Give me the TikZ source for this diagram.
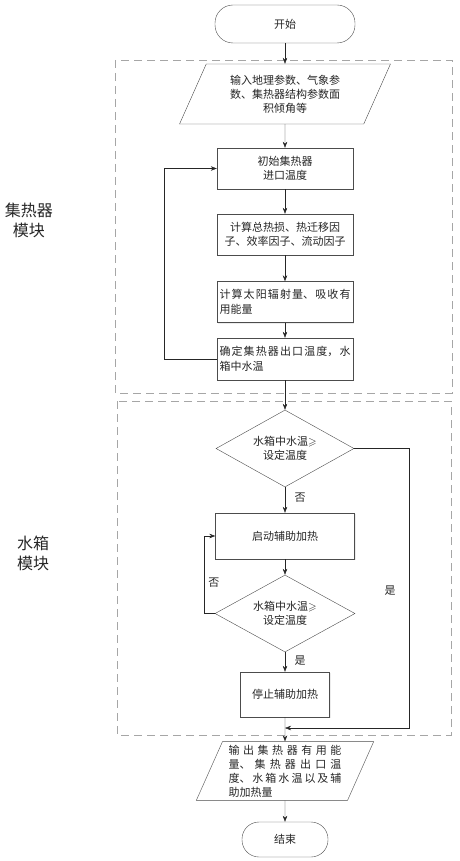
\documentclass[tikz,border=0pt]{standalone}
\usepackage{amssymb}
\usepackage{fontspec}
\setmainfont{Noto Sans CJK SC}
\XeTeXlinebreaklocale "zh"
\newcommand{\stretchcjk}{\XeTeXlinebreakskip=0pt plus 4pt\relax}
\usetikzlibrary{arrows.meta,shapes.geometric,shadows}

\begin{document}
\begin{tikzpicture}[x=1pt, y=-1pt, >={Stealth[length=6pt,width=4.5pt]},
  every node/.style={font=\fontsize{11}{14}\selectfont, text=black!85},
  shade box/.style={drop shadow={shadow xshift=1.2pt, shadow yshift=-1.2pt, fill=gray!30}},
  box/.style={draw=gray!60!black, fill=white, shade box, minimum width=136pt,
    minimum height=41pt, inner sep=2pt, align=center},
  leftbox/.style={box, text width=131pt, align=justify, font=\fontsize{11}{15}\selectfont\stretchcjk},
  term/.style={draw=gray!60!black, fill=white, rounded corners=18pt, minimum width=140pt, minimum height=38pt},
  para/.style={draw=gray!60!black, fill=white, trapezium, trapezium left angle=66,
    trapezium right angle=114, minimum height=60pt, inner xsep=0pt, align=center},
  cond/.style={draw=gray!60!black, fill=white, diamond, aspect=1.8, inner sep=0pt,
    minimum width=138pt, minimum height=77pt, align=center},
  module/.style={font=\fontsize{16}{20}\selectfont, align=center},
  line/.style={draw=black!85, ->},
  frame/.style={draw=gray!70, dash pattern=on 8pt off 5pt, line width=0.8pt}
]
  % page size
  \useasboundingbox (0,0) rectangle (459,861);

  % module frames
  \draw[frame] (115,60) rectangle (452,393);
  \draw[frame] (117,401) rectangle (451,735);
  \node[module] (modA) at (29,220) {集热器\\模块};
  \node[module] (modB) at (33,553) {水箱\\模块};

  % collector module
  \node[term] (start) at (285,24) {开始};
  \node[para, text width=118pt] (input) at (285,94)
    {输入地理参数、气象参\\数、集热器结构参数面\\积倾角等};
  \node[box] (init) at (285,168.5) {初始集热器\\进口温度};
  \node[box] (loss) at (285,234.5) {计算总热损、热迁移因\\子、效率因子、流动因子};
  \node[leftbox] (solar) at (285,302) {计算太阳辐射量、吸收有\linebreak 用能量};
  \node[leftbox, minimum height=42pt] (outlet) at (285,359) {确定集热器出口温度，水\linebreak 箱中水温};

  % water tank module
  \node[cond] (check) at (285,448.5) {水箱中水温$\geqslant$\\设定温度};
  \node[box, minimum width=139pt, minimum height=46pt] (heaton) at (285,536) {启动辅助加热};
  \node[cond, minimum width=140pt] (recheck) at (285,613.5) {水箱中水温$\geqslant$\\设定温度};
  \node[box, minimum width=89pt, minimum height=45pt] (heatoff) at (285,694.5) {停止辅助加热};

  % output
  \node[para, minimum height=58pt, text width=113pt, inner xsep=6pt, align=justify,
    font=\fontsize{11}{14}\selectfont\stretchcjk] (output) at (285,771)
    {输出集热器有用能\linebreak 量、集热器出口温\linebreak 度、水箱水温以及辅\linebreak 助加热量};
  \node[term, minimum width=86pt, minimum height=35pt, rounded corners=17pt] (stop) at (285,839.5) {结束};

  % helper points of the bypass line
  \coordinate (bend) at (409,728);
  \coordinate (merge) at (285,728);

  % connectors
  \draw[line] (start) -- (input);
  \draw[line] (input) -- (init);
  \draw[line] (init) -- (loss);
  \draw[line] (loss) -- (solar);
  \draw[line] (solar) -- (outlet);
  \draw[line] (outlet) -- (check);
  \draw[line] (outlet.west) -- ++(-53,0) |- (init.west);
  \draw[line] (check) -- node[pos=0.4, right=6pt] {否} (heaton);
  \draw[line] (heaton) -- (recheck);
  \draw[line] (recheck.west) -- ++(-11,0) |- node[pos=0.2, right=1pt] {否} (heaton.west);
  \draw[line] (recheck) -- node[pos=0.45, right=6pt] {是} (heatoff);
  \draw[line] (heatoff) -- (output);
  \draw[line] (check.east) -| (bend) -- (merge);
  \node (yes) at (390,591) {是};
  \draw[line] (output) -- (stop);
\end{tikzpicture}
\end{document}
